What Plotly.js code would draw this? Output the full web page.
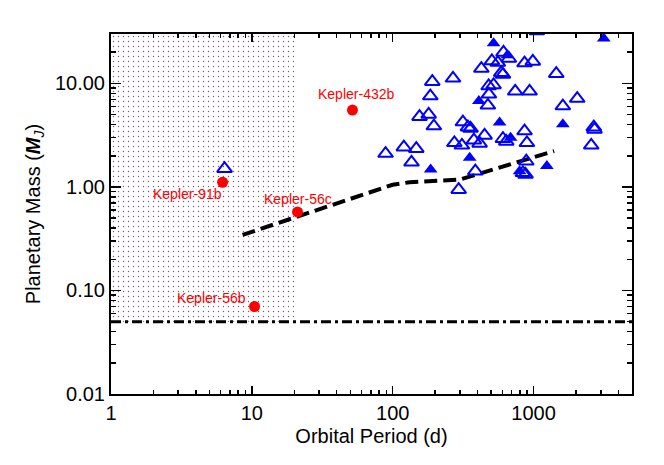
<!DOCTYPE html>
<html>
<head>
<meta charset="utf-8">
<script src="https://cdn.plot.ly/plotly-3.0.1.min.js"></script>
<style>html,body{margin:0;padding:0;background:#fff;}#chart{width:664px;height:465px;}</style>
</head>
<body>
<div id="chart"></div>
<script>
// ---- data ----
// open triangles (period in days, mass in M_J)
const openP = [6.4, 312, 367, 1056, 612, 506, 558, 668, 863, 988,
               426, 1449, 268, 191, 590, 606, 480, 520, 482, 741,
               937, 185, 474, 1614, 2042, 155, 180, 196, 315, 342,
               357, 863, 2678, 2709, 449, 377, 414, 274, 310, 606,
               640, 897, 2567, 89, 120, 147, 136, 888, 386, 840,
               877, 294];
const openM = [1.5, 33, 33, 32, 19.9, 16.5, 15.9, 17.4, 15.7, 16.3,
               13.9, 12.4, 11.2, 10.4, 12.7, 12.2, 9.44, 9.65, 7.84, 8.39,
               8.39, 7.55, 6.14, 6.04, 7.13, 4.77, 5.02, 3.87, 4.23, 3.78,
               3.67, 3.46, 3.78, 3.59, 3.14, 2.83, 2.63, 2.67, 2.52, 2.92,
               2.75, 2.67, 2.52, 2.10, 2.42, 2.34, 1.73, 1.77, 1.42, 1.37,
               1.32, 0.94];
// filled triangles
const fillP = [520, 3153, 651, 409, 574, 1614, 687, 352, 186, 1243, 796];
const fillM = [24.4, 27.2, 18.7, 6.76, 4.18, 4.02, 2.99, 1.91, 1.47, 1.59, 1.42];
// Kepler planets (red)
const keplerNames = ['Kepler-91b', 'Kepler-56c', 'Kepler-56b', 'Kepler-432b'];
const keplerP = [6.2, 21.1, 10.45, 51.8];
const keplerM = [1.11, 0.574, 0.070, 5.53];
// dashed model curve
const modelP = [8.6, 100, 132, 300, 1400];
const modelM = [0.344, 1.05, 1.11, 1.18, 2.22];
// detection limit (dash-dot) and excluded (dotted) region
const limitP = [1, 5000];
const limitM = [0.05, 0.05];
const zoneP = [1, 20, 20, 1, 1];
const zoneM = [0.05, 0.05, 30, 30, 0.05];
// axes
const xTickVals = [1, 10, 100, 1000];
const xTickText = ['1', '10', '100', '1000'];
const yTickVals = [0.01, 0.1, 1, 10];
const yTickText = ['0.01', '0.10', '1.00', '10.00'];

// minor tick positions (2..9 in each decade)
function minorTicks(lo, hi) {
  const out = [];
  for (let d = lo; d < hi; d++) for (let k = 2; k <= 9; k++) out.push(k * Math.pow(10, d));
  return out;
}

const FONT = 'Liberation Sans, Arial, Helvetica, sans-serif';

const traces = [
  { x: zoneP, y: zoneM, type: 'scatter', mode: 'lines', fill: 'toself',
    fillcolor: 'rgba(255,255,255,0)', line: { width: 0, color: 'rgba(0,0,0,0)' },
    fillpattern: { shape: '.', fgcolor: '#7a527a', bgcolor: 'rgba(255,255,255,0)', size: 5, solidity: 0.06 },
    hoverinfo: 'skip', showlegend: false },
  { x: limitP, y: limitM, type: 'scatter', mode: 'lines',
    line: { color: '#000', width: 3, dash: '10px,4px,3px,4px' }, showlegend: false },
  { x: modelP, y: modelM, type: 'scatter', mode: 'lines',
    line: { color: '#000', width: 4, dash: '13px,6px' }, showlegend: false },
  { x: openP, y: openM, type: 'scatter', mode: 'markers',
    marker: { symbol: 'triangle-up-open', size: 13, color: '#0000ff', line: { color: '#0000ff', width: 2 } },
    showlegend: false },
  { x: fillP, y: fillM, type: 'scatter', mode: 'markers',
    marker: { symbol: 'triangle-up', size: 12, color: '#0000ff', line: { width: 0 } },
    showlegend: false },
  { x: keplerP, y: keplerM, type: 'scatter', mode: 'markers',
    marker: { symbol: 'circle', size: 11, color: '#ff0000', line: { width: 0 } },
    showlegend: false }
];

const labelShift = [[-35, -12], [0, 13], [-43, 9], [4, 16]];
const annotations = keplerNames.map((n, i) => ({
  x: Math.log10(keplerP[i]), y: Math.log10(keplerM[i]), xref: 'x', yref: 'y',
  text: n, showarrow: false, xshift: labelShift[i][0], yshift: labelShift[i][1],
  font: { family: FONT, size: 14, color: '#ff0000' }
}));

const axisCommon = {
  type: 'log', showgrid: false, zeroline: false, showline: true, linecolor: '#000', linewidth: 2,
  mirror: 'ticks', ticks: 'inside', tickcolor: '#000', tickwidth: 1.5,
  tickfont: { family: FONT, size: 20, color: '#000' }
};

const layout = {
  width: 664, height: 465,
  margin: { l: 111, r: 32, t: 34, b: 71 },
  paper_bgcolor: '#fff', plot_bgcolor: '#fff',
  showlegend: false,
  font: { family: FONT, color: '#000' },
  xaxis: Object.assign({}, axisCommon, {
    range: [0, Math.log10(5000)], tickmode: 'array', tickvals: xTickVals, ticktext: xTickText,
    ticklen: 8,
    minor: { tickmode: 'array', tickvals: minorTicks(0, 4), ticks: 'inside', ticklen: 4, tickcolor: '#000', tickwidth: 1.5, showgrid: false },
    title: { text: 'Orbital Period (d)', font: { family: FONT, size: 20, color: '#000' }, standoff: 6 }
  }),
  yaxis: Object.assign({}, axisCommon, {
    range: [-2, Math.log10(30)], tickmode: 'array', tickvals: yTickVals, ticktext: yTickText,
    ticklen: 10,
    minor: { tickmode: 'array', tickvals: minorTicks(-2, 2), ticks: 'inside', ticklen: 5, tickcolor: '#000', tickwidth: 1.5, showgrid: false },
    title: { text: 'Planetary Mass (<b><i>M</i></b><sub><i>J</i></sub>)', font: { family: FONT, size: 20, color: '#000' }, standoff: 9 }
  }),
  annotations: annotations
};

Plotly.newPlot('chart', traces, layout, { staticPlot: true, displayModeBar: false });
</script>
</body>
</html>
